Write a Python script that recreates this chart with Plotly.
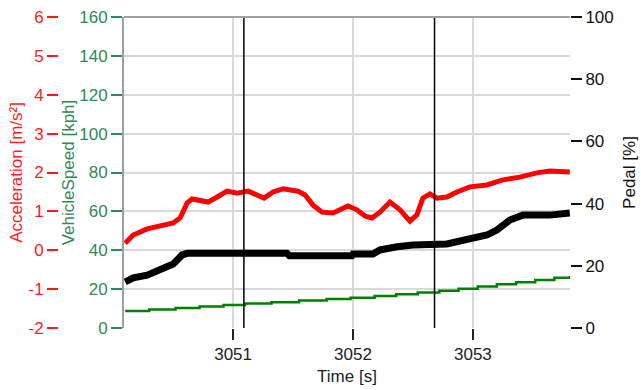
import plotly.graph_objects as go

# ---- data ----
time_acc = [3050.10, 3050.167, 3050.283, 3050.367, 3050.50, 3050.558, 3050.617, 3050.658,
            3050.725, 3050.792, 3050.867, 3050.95, 3051.033, 3051.125, 3051.20, 3051.258,
            3051.333, 3051.417, 3051.542, 3051.60, 3051.667, 3051.742, 3051.833, 3051.892,
            3051.958, 3052.033, 3052.10, 3052.158, 3052.225, 3052.308, 3052.392, 3052.475,
            3052.533, 3052.583, 3052.642, 3052.70, 3052.783, 3052.867, 3052.975, 3053.117,
            3053.25, 3053.392, 3053.533, 3053.642, 3053.808]
acceleration = [0.18, 0.39, 0.55, 0.60, 0.70, 0.83, 1.22, 1.32, 1.27, 1.24, 1.37, 1.52, 1.47,
                1.52, 1.42, 1.34, 1.50, 1.58, 1.52, 1.42, 1.16, 0.98, 0.96, 1.06, 1.14, 1.04,
                0.88, 0.83, 0.98, 1.24, 1.04, 0.75, 0.91, 1.34, 1.45, 1.34, 1.37, 1.50, 1.63,
                1.68, 1.81, 1.88, 1.99, 2.04, 2.01]

time_pedal = [3050.10, 3050.167, 3050.283, 3050.392, 3050.50, 3050.575, 3050.617, 3051.45,
              3051.47, 3051.99, 3052.0, 3052.167, 3052.225, 3052.367, 3052.50, 3052.783,
              3052.917, 3053.117, 3053.20, 3053.308, 3053.417, 3053.642, 3053.808]
pedal = [14.8, 16.1, 17.0, 18.6, 20.6, 23.5, 24.0, 24.0, 23.2, 23.2, 23.8, 23.8, 25.1, 26.1,
         26.7, 27.0, 28.0, 29.9, 31.5, 34.7, 36.3, 36.3, 37.0]

time_speed = [3050.10, 3050.30, 3050.52, 3050.72, 3050.92, 3051.10, 3051.32, 3051.55, 3051.78,
              3051.98, 3052.18, 3052.36, 3052.54, 3052.72, 3052.88, 3053.04, 3053.20, 3053.36,
              3053.52, 3053.68, 3053.81]
speed = [8.7, 9.5, 10.3, 11.0, 11.8, 12.6, 13.3, 14.1, 14.9, 15.6, 16.4, 17.3, 18.2, 19.1,
         20.2, 21.3, 22.5, 23.6, 24.7, 25.8, 26.7]

cursor_times = [3051.09, 3052.68]
x_ticks = [3051, 3052, 3053]
acc_ticks = [-2, -1, 0, 1, 2, 3, 4, 5, 6]
acc_tick_labels = ["-2", "-1", "0", "1", "2", "3", "4", "5", "6"]

W, H = 641, 390
FONT = "Liberation Sans"
FS = 17
RED = "#ff1a1a"
SEAGREEN = "#2e8b57"
GRID = "#d9d9d9"

fig = go.Figure()
fig.add_trace(go.Scatter(x=time_speed, y=speed, mode="lines", line=dict(color="#008000", width=2.5, shape="hv"),
                         yaxis="y", showlegend=False))
fig.add_trace(go.Scatter(x=time_pedal, y=pedal, mode="lines", line=dict(color="#000000", width=7),
                         yaxis="y3", showlegend=False))
fig.add_trace(go.Scatter(x=time_acc, y=acceleration, mode="lines", line=dict(color="#ff0000", width=5),
                         yaxis="y2", showlegend=False))

shapes = []
for t in cursor_times:
    shapes.append(dict(type="line", xref="x", yref="paper", x0=t, x1=t, y0=0, y1=1,
                       line=dict(color="#000000", width=1.5)))
shapes.append(dict(type="line", xref="paper", yref="paper", x0=124 / W, x1=570 / W, y0=1, y1=1,
                   line=dict(color="#a0a0a0", width=2)))

fig.update_layout(
    width=W, height=H,
    margin=dict(l=0, r=0, t=17, b=62),
    paper_bgcolor="white", plot_bgcolor="white",
    font=dict(family=FONT, size=FS),
    shapes=shapes,
    xaxis=dict(domain=[124 / W, 570 / W], range=[3050.09, 3053.81], tickvals=x_ticks,
               ticks="outside", ticklen=11, tickwidth=1.5, tickcolor="#222222",
               showgrid=True, gridcolor=GRID, gridwidth=1.5, zeroline=False, showline=False,
               tickfont=dict(color="#222222", size=FS),
               title=dict(text="Time [s]", font=dict(size=FS, color="#222222"), standoff=6),
               automargin=False),
    yaxis=dict(range=[0, 160], dtick=20, ticks="outside", ticklen=11, tickwidth=1.5,
               tickcolor=SEAGREEN, tickfont=dict(color=SEAGREEN, size=FS),
               showgrid=True, gridcolor=GRID, gridwidth=1.5, zeroline=False,
               showline=True, linecolor="#a0a0a0", linewidth=2,
               title=dict(text="VehicleSpeed [kph]", font=dict(color=SEAGREEN, size=FS), standoff=0),
               automargin=False),
    yaxis2=dict(range=[-2, 6], tickvals=acc_ticks, ticktext=acc_tick_labels,
                overlaying="y", anchor="free", position=58 / W, side="left",
                ticks="outside", ticklen=11, tickwidth=1.5, tickcolor=RED,
                tickfont=dict(color=RED, size=FS), showgrid=False, zeroline=False, showline=False,
                title=dict(text="Acceleration [m/s²]", font=dict(color=RED, size=FS), standoff=0),
                automargin=False),
    yaxis3=dict(range=[0, 100], dtick=20, overlaying="y", anchor="x", side="right",
                ticks="outside", ticklen=11, tickwidth=1.5, tickcolor="#111111",
                tickfont=dict(color="#111111", size=FS), showgrid=False, zeroline=False, showline=False,
                title=dict(text="Pedal [%]", font=dict(color="#111111", size=FS), standoff=10),
                automargin=False),
)

fig.write_html("out.html")
